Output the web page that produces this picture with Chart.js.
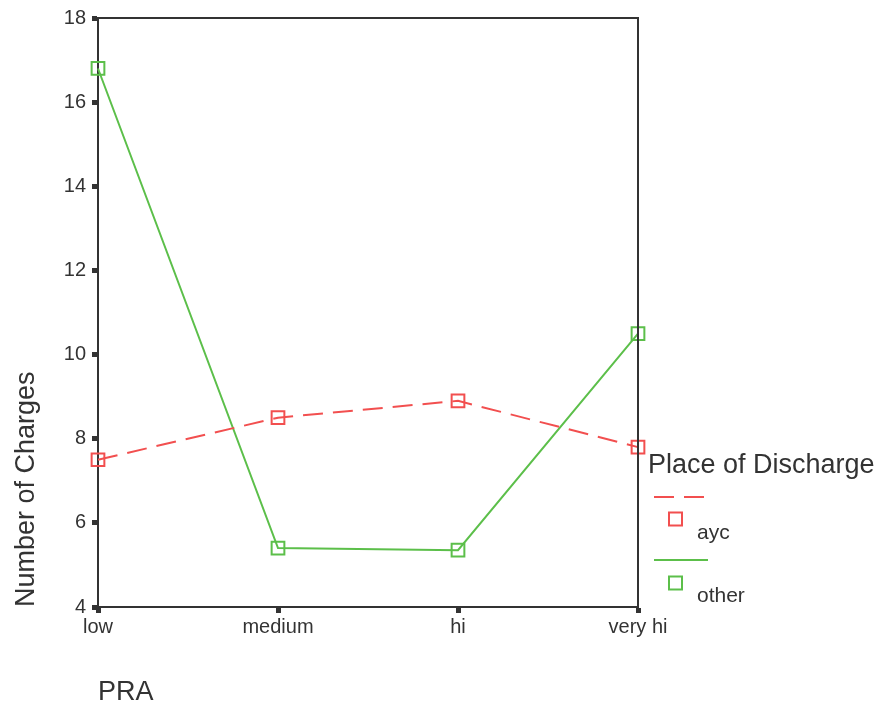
<!DOCTYPE html>
<html>
<head>
<meta charset="utf-8">
<script src="https://cdn.jsdelivr.net/npm/chart.js@4/dist/chart.umd.min.js"></script>
<style>
html,body{margin:0;padding:0;background:#fff;}
#wrap{width:893px;height:712px;position:relative;}
</style>
</head>
<body>
<div id="wrap"><canvas id="c"></canvas></div>
<script>
const categories = ['low', 'medium', 'hi', 'very hi'];
const aycValues = [7.5, 8.5, 8.9, 7.8];
const otherValues = [16.8, 5.4, 5.35, 10.5];
const yTicks = [4, 6, 8, 10, 12, 14, 16, 18];
const legendTitle = 'Place of Discharge';
const seriesNames = ['ayc', 'other'];

const TEXT = '#333333';
const FONT = "'Liberation Sans', Arial, sans-serif";
const RED = '#f24f4f';
const GREEN = '#5cbf4a';

const boxPlugin = {
  id: 'boxPlugin',
  afterDraw(chart) {
    const {ctx, chartArea: a} = chart;
    ctx.save();
    ctx.strokeStyle = TEXT;
    ctx.lineWidth = 2;
    ctx.beginPath();
    ctx.moveTo(a.left, a.top);
    ctx.lineTo(a.right, a.top);
    ctx.lineTo(a.right, a.bottom);
    ctx.stroke();
    // legend
    const x0 = a.right + 10;
    ctx.fillStyle = TEXT;
    ctx.textBaseline = 'alphabetic';
    ctx.textAlign = 'left';
    ctx.font = '27px ' + FONT;
    ctx.fillText(legendTitle, x0, 473);
    const rows = [{lineY: 497, boxY: 519, textY: 539}, {lineY: 560, boxY: 583, textY: 602}];
    chart.data.datasets.forEach((ds, i) => {
      const r = rows[i];
      ctx.strokeStyle = ds.borderColor;
      ctx.lineWidth = 2;
      ctx.setLineDash(ds.borderDash || []);
      ctx.beginPath();
      ctx.moveTo(x0 + 6, r.lineY);
      ctx.lineTo(x0 + 60, r.lineY);
      ctx.stroke();
      ctx.setLineDash([]);
      ctx.fillStyle = '#fff';
      ctx.fillRect(x0 + 21, r.boxY - 6.5, 13, 13);
      ctx.strokeRect(x0 + 21, r.boxY - 6.5, 13, 13);
      ctx.fillStyle = TEXT;
      ctx.font = '21px ' + FONT;
      ctx.fillText(ds.label, x0 + 49, r.textY);
    });
    ctx.restore();
  }
};

new Chart(document.getElementById('c'), {
  type: 'line',
  data: {
    labels: categories,
    datasets: [
      {
        label: seriesNames[0],
        data: aycValues,
        borderColor: RED,
        backgroundColor: '#ffffff',
        borderWidth: 2,
        borderDash: [20, 10],
        pointStyle: 'rect',
        pointRadius: 9,
        pointBorderWidth: 2,
        pointBackgroundColor: 'rgba(255,255,255,0)',
        pointBorderColor: RED,
        tension: 0
      },
      {
        label: seriesNames[1],
        data: otherValues,
        borderColor: GREEN,
        backgroundColor: '#ffffff',
        borderWidth: 2,
        pointStyle: 'rect',
        pointRadius: 9,
        pointBorderWidth: 2,
        pointBackgroundColor: 'rgba(255,255,255,0)',
        pointBorderColor: GREEN,
        tension: 0
      }
    ]
  },
  options: {
    responsive: true,
    maintainAspectRatio: false,
    animation: false,
    layout: {padding: {left: 0, right: 255, top: 0, bottom: 0}},
    plugins: {legend: {display: false}, tooltip: {enabled: false}},
    scales: {
      x: {
        type: 'category',
        offset: false,
        grid: {drawOnChartArea: false, tickLength: 6, tickWidth: 5, tickColor: TEXT},
        border: {display: true, color: TEXT, width: 2},
        ticks: {color: TEXT, font: {family: FONT, size: 20}, padding: 2, maxRotation: 0},
        title: {display: true, text: 'PRA', align: 'start', color: TEXT, font: {family: FONT, size: 27}, padding: {top: 0, bottom: 3}},
        afterFit(s) { s.height = 105; }
      },
      y: {
        min: 4,
        max: 18,
        afterBuildTicks(s) { s.ticks = yTicks.map(v => ({value: v})); },
        grid: {drawOnChartArea: false, tickLength: 6, tickWidth: 5, tickColor: TEXT},
        border: {display: true, color: TEXT, width: 2},
        ticks: {color: TEXT, font: {family: FONT, size: 20}, padding: 6},
        title: {display: true, text: 'Number of Charges', align: 'start', color: TEXT, font: {family: FONT, size: 27}, padding: {top: 10, bottom: 0}},
        afterFit(s) { s.width = 98; }
      }
    }
  },
  plugins: [boxPlugin]
});
</script>
</body>
</html>
